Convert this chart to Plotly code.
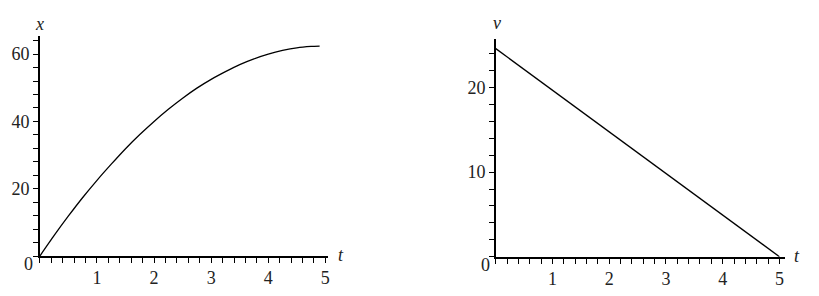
import plotly.graph_objects as go

# Left panel: position x vs time t
t_pos = [0, 0.25, 0.5, 0.75, 1.0, 1.25, 1.5, 1.75, 2.0, 2.25, 2.5, 2.75, 3.0,
         3.25, 3.5, 3.75, 4.0, 4.25, 4.5, 4.75, 4.9]
x_pos = [0, 6.1, 11.9, 17.4, 22.5, 27.3, 31.9, 36.1, 40.0, 43.6, 46.9, 49.9, 52.5,
         54.8, 56.9, 58.6, 60.0, 61.1, 61.9, 62.3, 62.4]

# Right panel: velocity v vs time t
t_vel = [0, 5.0]
v_vel = [24.6, 0]

x_ticks = [1, 2, 3, 4, 5]
x_left_ticks = [20, 40, 60]
v_ticks = [10, 20]

W, H = 819, 296
FONT = "Liberation Serif"
FS = 18

def px(x):
    return x / W

def py(y):
    return (H - y) / H

fig = go.Figure()
fig.add_trace(go.Scatter(x=t_pos, y=x_pos, mode="lines", line=dict(color="black", width=1.3, shape="spline", smoothing=0.6),
                         xaxis="x", yaxis="y", showlegend=False, hoverinfo="skip"))
fig.add_trace(go.Scatter(x=t_vel, y=v_vel, mode="lines", line=dict(color="black", width=1.3),
                         xaxis="x2", yaxis="y2", showlegend=False, hoverinfo="skip"))

common = dict(showgrid=False, zeroline=False, showline=True, linecolor="black", linewidth=1.6,
              ticks="outside", ticklen=5, tickwidth=1, tickcolor="black",
              tickfont=dict(family=FONT, size=FS, color="#222"), fixedrange=True)
minor_x = dict(dtick=0.2, tick0=0, ticklen=5, tickwidth=1, tickcolor="black", ticks="outside")

fig.update_layout(
    width=W, height=H, margin=dict(l=0, r=0, t=0, b=0),
    paper_bgcolor="white", plot_bgcolor="white",
    font=dict(family=FONT),
    xaxis=dict(domain=[px(40), px(329)], range=[0, 5.05], tickvals=x_ticks, anchor="y",
               minor=minor_x, **common),
    yaxis=dict(domain=[py(256), py(36)], range=[0, 65.4], tickvals=x_left_ticks, anchor="x",
               minor=dict(dtick=4, tick0=0, ticklen=5, tickwidth=1, tickcolor="black", ticks="outside"),
               **common),
    xaxis2=dict(domain=[px(497), px(787)], range=[0, 5.1], tickvals=x_ticks, anchor="y2",
                minor=minor_x, **common),
    yaxis2=dict(domain=[py(256.7), py(39.3)], range=[0, 25.7], tickvals=v_ticks, anchor="x2",
                minor=dict(dtick=2, tick0=0, ticklen=5, tickwidth=1, tickcolor="black", ticks="outside"),
                **common),
)

def label(text, x, y, italic=False, size=FS):
    fig.add_annotation(x=px(x), y=py(y), xref="paper", yref="paper", text=(f"<i>{text}</i>" if italic else text),
                       showarrow=False, font=dict(family=FONT, size=size, color="#222"),
                       xanchor="center", yanchor="middle")

label("x", 40, 24, italic=True)
label("t", 342, 255, italic=True)
label("0", 29, 264)
label("v", 498, 23, italic=True)
label("t", 799, 256, italic=True)
label("0", 487, 265)

fig.write_html("out.html")
